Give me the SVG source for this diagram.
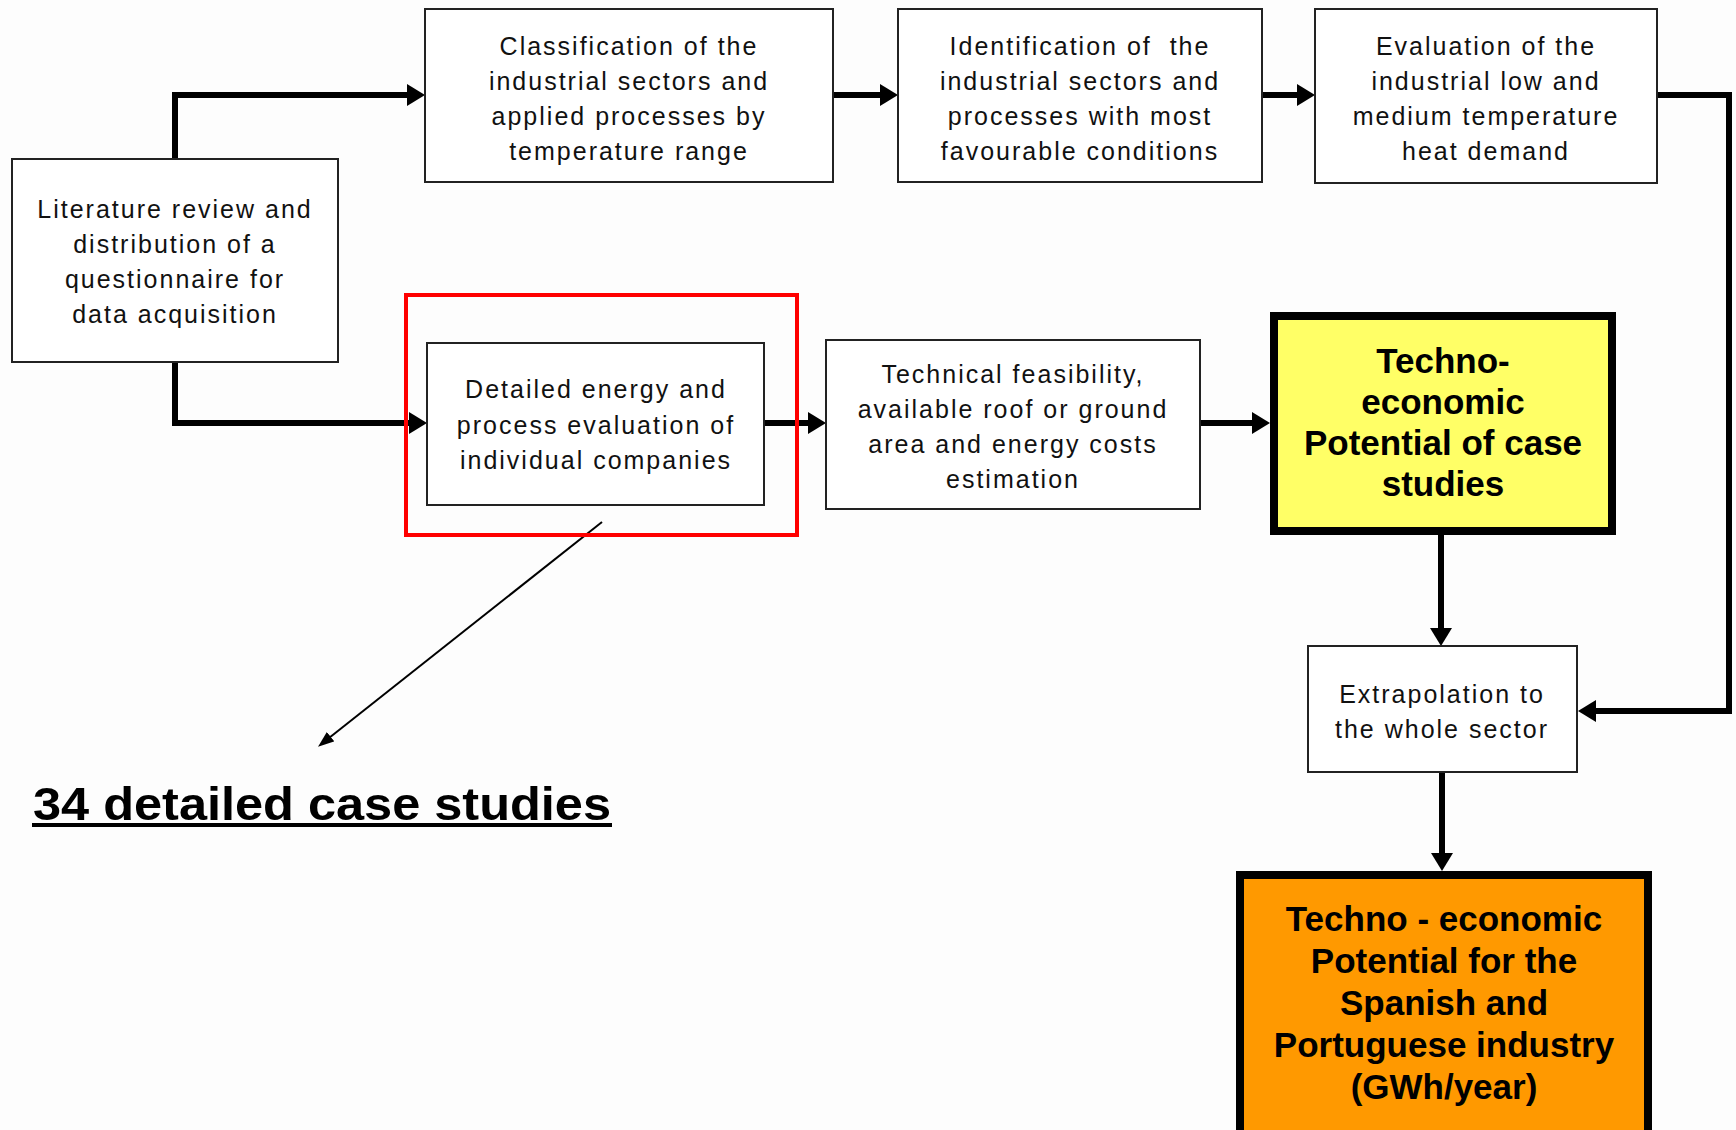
<svg xmlns="http://www.w3.org/2000/svg" width="1736" height="1130" viewBox="0 0 1736 1130">
<style>
.box{fill:#ffffff;stroke:#222;stroke-width:2}
.t{font-family:"Liberation Sans",Arial,sans-serif;font-size:25px;letter-spacing:2px;fill:#111;text-anchor:middle}
.b{font-family:"Liberation Sans",Arial,sans-serif;font-size:35px;font-weight:bold;fill:#000;text-anchor:middle}
.conn{fill:none;stroke:#000;stroke-width:6;stroke-linejoin:miter}
</style>
<defs>
<marker id="ah" viewBox="0 0 18 22" markerWidth="18" markerHeight="22" refX="2" refY="11" orient="auto" markerUnits="userSpaceOnUse">
<path d="M0,0 L18,11 L0,22 z" fill="#000"/>
</marker>
<marker id="ahs" viewBox="0 0 16 12" markerWidth="16" markerHeight="12" refX="2" refY="6" orient="auto" markerUnits="userSpaceOnUse">
<path d="M0,0 L16,6 L0,12 z" fill="#000"/>
</marker>
</defs>
<rect width="1736" height="1130" fill="#fdfdfd"/>

<g id="connectors">
<path class="conn" d="M175,159 V95 H409" marker-end="url(#ah)"/>
<path class="conn" d="M833,95 H882" marker-end="url(#ah)"/>
<path class="conn" d="M1263,95 H1299" marker-end="url(#ah)"/>
<path class="conn" d="M1657,95 H1729 V711 H1594" marker-end="url(#ah)"/>
<path class="conn" d="M175,362 V423 H411" marker-end="url(#ah)"/>
<path class="conn" d="M764,423 H810" marker-end="url(#ah)"/>
<path class="conn" d="M1200,423 H1254" marker-end="url(#ah)"/>
<path class="conn" d="M1441,535 V630" marker-end="url(#ah)"/>
<path class="conn" d="M1442,772 V855" marker-end="url(#ah)"/>
<path d="M602,522 L329,738" fill="none" stroke="#000" stroke-width="2" marker-end="url(#ahs)"/>
</g>

<g id="literature">
<rect class="box" x="12" y="159" width="326" height="203"/>
<text class="t" x="175" y="218">Literature review and</text>
<text class="t" x="175" y="253">distribution of a</text>
<text class="t" x="175" y="288">questionnaire for</text>
<text class="t" x="175" y="323">data acquisition</text>
</g>

<g id="classification">
<rect class="box" x="425" y="9" width="408" height="173"/>
<text class="t" x="629" y="55">Classification of the</text>
<text class="t" x="629" y="90">industrial sectors and</text>
<text class="t" x="629" y="125">applied processes by</text>
<text class="t" x="629" y="160">temperature range</text>
</g>

<g id="identification">
<rect class="box" x="898" y="9" width="364" height="173"/>
<text class="t" x="1080" y="55" xml:space="preserve">Identification of  the</text>
<text class="t" x="1080" y="90">industrial sectors and</text>
<text class="t" x="1080" y="125">processes with most</text>
<text class="t" x="1080" y="160">favourable conditions</text>
</g>

<g id="evaluation">
<rect class="box" x="1315" y="9" width="342" height="174"/>
<text class="t" x="1486" y="55">Evaluation of the</text>
<text class="t" x="1486" y="90">industrial low and</text>
<text class="t" x="1486" y="125">medium temperature</text>
<text class="t" x="1486" y="160">heat demand</text>
</g>

<g id="highlight">
<rect x="406" y="295" width="391" height="240" fill="none" stroke="#ff0000" stroke-width="4"/>
</g>

<g id="detailed">
<rect class="box" x="427" y="343" width="337" height="162"/>
<text class="t" x="596" y="398">Detailed energy and</text>
<text class="t" x="596" y="434">process evaluation of</text>
<text class="t" x="596" y="469">individual companies</text>
</g>

<g id="technical">
<rect class="box" x="826" y="340" width="374" height="169"/>
<text class="t" x="1013" y="383">Technical feasibility,</text>
<text class="t" x="1013" y="418">available roof or ground</text>
<text class="t" x="1013" y="453">area and energy costs</text>
<text class="t" x="1013" y="488">estimation</text>
</g>

<g id="case-potential">
<rect x="1274" y="316" width="338" height="215" fill="#ffff66" stroke="#000" stroke-width="8"/>
<text class="b" x="1443" y="373">Techno-</text>
<text class="b" x="1443" y="414">economic</text>
<text class="b" x="1443" y="455">Potential of case</text>
<text class="b" x="1443" y="496">studies</text>
</g>

<g id="extrapolation">
<rect class="box" x="1308" y="646" width="269" height="126"/>
<text class="t" x="1442" y="703">Extrapolation to</text>
<text class="t" x="1442" y="738">the whole sector</text>
</g>

<g id="sector-potential">
<rect x="1240" y="875" width="408" height="300" fill="#ff9900" stroke="#000" stroke-width="8"/>
<text class="b" x="1444" y="931">Techno - economic</text>
<text class="b" x="1444" y="973">Potential for the</text>
<text class="b" x="1444" y="1015">Spanish and</text>
<text class="b" x="1444" y="1057">Portuguese industry</text>
<text class="b" x="1444" y="1099">(GWh/year)</text>
</g>

<g id="case-studies-label">
<text x="33" y="820" font-family="'Liberation Sans',Arial,sans-serif" font-size="46" font-weight="bold" fill="#000" textLength="578" lengthAdjust="spacingAndGlyphs">34 detailed case studies</text>
<rect x="32" y="823" width="580" height="4" fill="#000"/>
</g>
</svg>
